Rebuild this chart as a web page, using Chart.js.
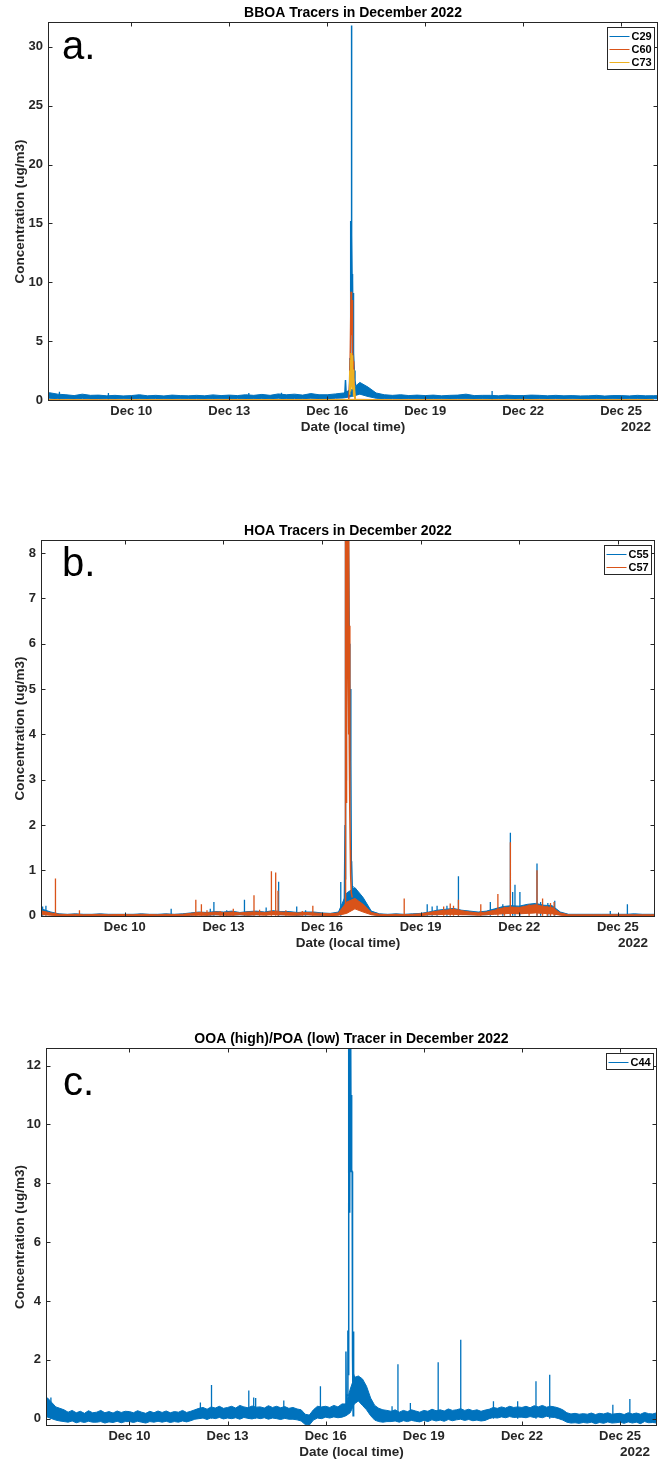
<!DOCTYPE html>
<html>
<head>
<meta charset="utf-8">
<title>Tracers in December 2022</title>
<script src="https://cdn.jsdelivr.net/npm/chart.js"></script>
<style>
  html, body { margin: 0; padding: 0; background: #fff; }
  body { width: 660px; height: 1464px; position: relative; overflow: hidden; }
  canvas { position: absolute; left: 0; }
</style>
</head>
<body>
<canvas id="chartA" width="660" height="440" style="top:0px"></canvas>
<canvas id="chartB" width="660" height="438" style="top:518px"></canvas>
<canvas id="chartC" width="660" height="439" style="top:1026px"></canvas>
<script>
// ========================
// SHARED X AXIS (day of December 2022)
// ========================
const X_MIN = 7.45;
const X_MAX = 26.13;
const X_TICKS = [10, 13, 16, 19, 22, 25];
const X_LABELS = ["Dec 10", "Dec 13", "Dec 16", "Dec 19", "Dec 22", "Dec 25"];

// ========================
// PANEL A - BBOA tracers
// bands sampled every 6 h starting Dec 7 06:00
// ========================
const A_Y_TICKS = [0, 5, 10, 15, 20, 25, 30];
const A_START = 7.25;
const A_STEP = 0.25;

const C29_HI = [
  0.6, 0.62, 0.5,            // Dec 7
  0.45, 0.38, 0.5, 0.4,      // Dec 8
  0.42, 0.36, 0.4, 0.35,     // Dec 9
  0.38, 0.45, 0.36, 0.4,     // Dec 10
  0.35, 0.42, 0.38, 0.36,    // Dec 11
  0.4, 0.36, 0.44, 0.38,     // Dec 12
  0.42, 0.38, 0.45, 0.4,     // Dec 13
  0.48, 0.4, 0.52, 0.45,     // Dec 14
  0.5, 0.42, 0.55, 0.45,     // Dec 15
  0.45, 0.52, 0.6, 0.9,      // Dec 16
  1.5, 1.1, 0.6, 0.45,       // Dec 17
  0.4, 0.45, 0.38, 0.42,     // Dec 18
  0.38, 0.42, 0.36, 0.4,     // Dec 19
  0.42, 0.5, 0.38, 0.4,      // Dec 20
  0.4, 0.36, 0.42, 0.38,     // Dec 21
  0.38, 0.42, 0.4, 0.36,     // Dec 22
  0.4, 0.36, 0.38, 0.35,     // Dec 23
  0.36, 0.4, 0.34, 0.38,     // Dec 24
  0.38, 0.35, 0.4, 0.36,     // Dec 25
  0.37, 0.38                 // Dec 26
];
const C29_LO = [
  0.15, 0.15, 0.12,
  0.12, 0.1, 0.14, 0.1,
  0.1, 0.12, 0.1, 0.11,
  0.1, 0.12, 0.1, 0.13,
  0.12, 0.1, 0.11, 0.12,
  0.12, 0.1, 0.13, 0.11,
  0.12, 0.13, 0.1, 0.12,
  0.14, 0.12, 0.15, 0.12,
  0.13, 0.12, 0.15, 0.13,
  0.12, 0.15, 0.18, 0.3,
  0.5, 0.3, 0.15, 0.12,
  0.12, 0.1, 0.12, 0.11,
  0.1, 0.12, 0.11, 0.1,
  0.12, 0.11, 0.1, 0.12,
  0.1, 0.12, 0.11, 0.1,
  0.11, 0.1, 0.12, 0.1,
  0.12, 0.1, 0.11, 0.1,
  0.1, 0.12, 0.1, 0.11,
  0.1, 0.11, 0.12, 0.1,
  0.11, 0.1
];
const C29_PEAK = [
  [16.54, 0.5], [16.56, 1.7], [16.58, 0.6], [16.68, 0.8], [16.7, 3.5],
  [16.715, 8], [16.725, 15.2], [16.735, 9], [16.74, 22.3], [16.745, 12],
  [16.75, 31.8], [16.755, 14], [16.76, 10.7], [16.77, 9.2], [16.78, 10.2],
  [16.79, 6], [16.8, 9.1], [16.81, 4], [16.83, 2.5], [16.85, 1.7], [16.87, 1.2]
];
const C29_SPIKES = [[7.8, 0.7], [9.3, 0.6], [13.6, 0.6], [14.6, 0.62], [21.05, 0.76]];

// daily samples Dec 7 .. Dec 26
const DAILY_START = 7;
const DAILY_STEP = 1;
const C60_DAILY = [0.04, 0.03, 0.03, 0.02, 0.03, 0.03, 0.04, 0.04, 0.05, 0.05,
                   0.06, 0.03, 0.03, 0.03, 0.03, 0.03, 0.02, 0.03, 0.03, 0.03];
const C60_PEAK = [
  [16.66, 0.05], [16.69, 1.5], [16.71, 4.5], [16.73, 9.2], [16.745, 5.5],
  [16.76, 8.5], [16.775, 4], [16.79, 3.3], [16.81, 1.8], [16.83, 0.6], [16.86, 0.1]
];
const C73_DAILY = [0.02, 0.02, 0.01, 0.02, 0.02, 0.02, 0.02, 0.03, 0.03, 0.03,
                   0.04, 0.02, 0.02, 0.02, 0.02, 0.02, 0.01, 0.02, 0.02, 0.02];
const C73_PEAK = [
  [16.68, 0.5], [16.69, 2.5], [16.7, 0.8], [16.71, 3.4], [16.72, 1.0],
  [16.73, 4.0], [16.74, 1.5], [16.75, 3.6], [16.76, 1.2], [16.77, 3.8],
  [16.78, 0.9], [16.79, 2.6], [16.8, 0.6], [16.81, 1.6], [16.82, 0.3],
  [16.84, 0.8], [16.86, 0.05]
];

// ========================
// PANEL B - HOA tracers (same 6 h grid as panel a)
// ========================
const B_Y_TICKS = [0, 1, 2, 3, 4, 5, 6, 7, 8];

const C55_HI = [
  0.12, 0.14, 0.08,
  0.04, 0.03, 0.04, 0.03,
  0.03, 0.04, 0.03, 0.03,
  0.03, 0.03, 0.04, 0.03,
  0.03, 0.04, 0.03, 0.04,
  0.06, 0.08, 0.07, 0.09,
  0.08, 0.1, 0.07, 0.09,
  0.1, 0.08, 0.11, 0.09,
  0.09, 0.07, 0.08, 0.08,
  0.06, 0.05, 0.08, 0.5,
  0.62, 0.4, 0.1, 0.04,
  0.03, 0.04, 0.03, 0.04,
  0.05, 0.08, 0.12, 0.14,
  0.16, 0.12, 0.1, 0.08,
  0.1, 0.15, 0.2, 0.22,
  0.21, 0.25, 0.27, 0.23,
  0.22, 0.08, 0.03, 0.03,
  0.03, 0.03, 0.03, 0.03,
  0.03, 0.03, 0.04, 0.03,
  0.03, 0.03
];
const C55_LO = [
  0.02, 0.03, 0.02,
  0.0, 0.0, 0.01, 0.0,
  0.0, 0.01, 0.0, 0.0,
  0.0, 0.0, 0.01, 0.0,
  0.0, 0.01, 0.0, 0.0,
  0.01, 0.02, 0.01, 0.02,
  0.02, 0.01, 0.02, 0.01,
  0.02, 0.02, 0.03, 0.02,
  0.02, 0.01, 0.02, 0.02,
  0.01, 0.01, 0.02, 0.1,
  0.3, 0.15, 0.03, 0.0,
  0.0, 0.0, 0.0, 0.01,
  0.01, 0.02, 0.03, 0.04,
  0.04, 0.03, 0.02, 0.02,
  0.02, 0.04, 0.05, 0.06,
  0.05, 0.06, 0.07, 0.06,
  0.05, 0.02, 0.0, 0.0,
  0.0, 0.0, 0.0, 0.0,
  0.0, 0.0, 0.01, 0.0,
  0.0, 0.0
];
const C55_PEAK = [
  [16.68, 0.3], [16.7, 2.0], [16.71, 0.8], [16.72, 8.6], [16.73, 3],
  [16.74, 8.6], [16.76, 8.6], [16.78, 8.6], [16.8, 8.6], [16.82, 8.6],
  [16.83, 6.0], [16.84, 5.4], [16.85, 5.2], [16.86, 4.0], [16.87, 5.0],
  [16.88, 3.4], [16.89, 1.2], [16.9, 1.15], [16.92, 0.6], [16.95, 0.65]
];
const C55_SPIKES = [
  [7.5, 0.2], [7.6, 0.22], [11.41, 0.15], [12.6, 0.15], [12.71, 0.3],
  [13.1, 0.12], [13.64, 0.35], [14.3, 0.18], [14.68, 0.75], [15.23, 0.2],
  [15.5, 0.12], [16.57, 0.74], [19.2, 0.25], [19.35, 0.2], [19.5, 0.22],
  [19.8, 0.22], [20.15, 0.87], [21.12, 0.3], [21.5, 0.25], [21.73, 1.83],
  [21.8, 0.52], [21.87, 0.68], [22.02, 0.52], [22.54, 1.15], [22.65, 0.3],
  [22.87, 0.28], [22.95, 0.25], [23.08, 0.33], [24.77, 0.1], [25.29, 0.25]
];

const C57_HI = [
  0.08, 0.1, 0.06,
  0.03, 0.025, 0.03, 0.02,
  0.025, 0.03, 0.02, 0.025,
  0.025, 0.02, 0.03, 0.025,
  0.02, 0.03, 0.025, 0.03,
  0.05, 0.07, 0.06, 0.08,
  0.07, 0.08, 0.06, 0.08,
  0.08, 0.07, 0.09, 0.08,
  0.07, 0.06, 0.07, 0.06,
  0.05, 0.04, 0.06, 0.3,
  0.38, 0.25, 0.07, 0.03,
  0.02, 0.03, 0.02, 0.03,
  0.04, 0.07, 0.1, 0.12,
  0.14, 0.11, 0.08, 0.06,
  0.08, 0.12, 0.17, 0.19,
  0.18, 0.22, 0.24, 0.2,
  0.18, 0.06, 0.02, 0.02,
  0.02, 0.02, 0.02, 0.02,
  0.02, 0.02, 0.02, 0.02,
  0.02, 0.02
];
const C57_LO = [
  0.01, 0.02, 0.01,
  0.0, 0.0, 0.0, 0.0,
  0.0, 0.0, 0.0, 0.0,
  0.0, 0.0, 0.0, 0.0,
  0.0, 0.0, 0.0, 0.0,
  0.01, 0.01, 0.01, 0.02,
  0.01, 0.01, 0.02, 0.01,
  0.02, 0.01, 0.02, 0.02,
  0.01, 0.01, 0.02, 0.01,
  0.01, 0.0, 0.01, 0.05,
  0.15, 0.08, 0.02, 0.0,
  0.0, 0.0, 0.0, 0.0,
  0.0, 0.02, 0.02, 0.03,
  0.03, 0.02, 0.02, 0.01,
  0.02, 0.03, 0.04, 0.05,
  0.04, 0.05, 0.06, 0.05,
  0.04, 0.01, 0.0, 0.0,
  0.0, 0.0, 0.0, 0.0,
  0.0, 0.0, 0.0, 0.0,
  0.0, 0.0
];
const C57_PEAK = [
  [16.7, 0.2], [16.71, 1.6], [16.72, 8.6], [16.73, 2.5], [16.74, 8.6],
  [16.75, 4.5], [16.76, 8.6], [16.77, 6.4], [16.78, 8.6], [16.79, 5.5],
  [16.8, 8.6], [16.81, 4.0], [16.82, 8.6], [16.83, 3.7], [16.84, 6.4],
  [16.85, 2.3], [16.86, 1.45], [16.87, 0.9], [16.89, 0.5], [16.92, 0.4]
];
const C57_SPIKES = [
  [7.89, 0.82], [8.62, 0.12], [12.16, 0.35], [12.33, 0.25], [12.5, 0.12],
  [12.9, 0.1], [13.3, 0.15], [13.93, 0.45], [14.1, 0.13], [14.46, 0.98],
  [14.59, 0.95], [14.66, 0.55], [14.9, 0.12], [15.4, 0.1], [15.72, 0.22],
  [18.5, 0.38], [19.7, 0.2], [19.9, 0.27], [20.0, 0.22], [20.15, 0.35],
  [20.83, 0.25], [21.35, 0.48], [21.55, 0.2], [21.73, 1.62], [22.3, 0.25],
  [22.54, 1.0], [22.71, 0.38], [22.85, 0.22], [22.95, 0.28], [23.06, 0.3]
];

// ========================
// PANEL C - OOA/POA tracer, band sampled every 3 h from Dec 7 09:00
// ========================
const C_Y_TICKS = [0, 2, 4, 6, 8, 10, 12];
const C_START = 7.375;
const C_STEP = 0.125;

const C44_HI = [
  0.75, 0.7, 0.55, 0.4, 0.35,                        // Dec 7
  0.3, 0.22, 0.28, 0.2, 0.25, 0.18, 0.27, 0.2,       // Dec 8
  0.22, 0.28, 0.2, 0.24, 0.19, 0.26, 0.21, 0.25,     // Dec 9
  0.24, 0.2, 0.27, 0.22, 0.18, 0.25, 0.2, 0.26,      // Dec 10
  0.21, 0.26, 0.2, 0.24, 0.22, 0.28, 0.21, 0.25,     // Dec 11
  0.3, 0.35, 0.38, 0.32, 0.4, 0.36, 0.42, 0.35,      // Dec 12
  0.38, 0.42, 0.36, 0.45, 0.4, 0.37, 0.43, 0.39,     // Dec 13
  0.4, 0.36, 0.44, 0.38, 0.42, 0.37, 0.41, 0.35,     // Dec 14
  0.38, 0.33, 0.3, 0.15, 0.12, 0.3, 0.42, 0.4,       // Dec 15
  0.42, 0.38, 0.45, 0.4, 0.5, 0.5, 1.0, 1.4,         // Dec 16
  1.45, 1.35, 1.1, 0.7, 0.45, 0.35, 0.3, 0.28,       // Dec 17
  0.25, 0.3, 0.22, 0.28, 0.24, 0.3, 0.26, 0.22,      // Dec 18
  0.28, 0.25, 0.32, 0.27, 0.3, 0.26, 0.33, 0.28,     // Dec 19
  0.3, 0.34, 0.28, 0.32, 0.27, 0.3, 0.25, 0.29,      // Dec 20
  0.32, 0.38, 0.35, 0.4, 0.36, 0.42, 0.38, 0.4,      // Dec 21
  0.38, 0.42, 0.37, 0.44, 0.4, 0.45, 0.39, 0.42,     // Dec 22
  0.4, 0.36, 0.3, 0.2, 0.16, 0.18, 0.15, 0.17,       // Dec 23
  0.15, 0.19, 0.14, 0.18, 0.16, 0.2, 0.15, 0.17,     // Dec 24
  0.18, 0.14, 0.2, 0.16, 0.19, 0.15, 0.21, 0.17,     // Dec 25
  0.16, 0.2                                          // Dec 26
];
const C44_LO = [
  0.1, 0.05, 0.0, -0.05, -0.08,
  -0.1, -0.12, -0.08, -0.14, -0.1, -0.13, -0.09, -0.12,
  -0.12, -0.1, -0.15, -0.11, -0.13, -0.09, -0.14, -0.1,
  -0.1, -0.13, -0.09, -0.12, -0.15, -0.1, -0.12, -0.09,
  -0.12, -0.09, -0.13, -0.1, -0.12, -0.08, -0.11, -0.07,
  -0.02, 0.0, 0.02, -0.03, 0.03, 0.0, 0.04, -0.01,
  0.02, 0.0, 0.03, -0.02, 0.04, 0.01, -0.01, 0.03,
  0.0, 0.03, -0.02, 0.02, 0.0, -0.03, 0.01, -0.02,
  -0.02, -0.04, -0.08, -0.2, -0.22, -0.05, 0.02, 0.0,
  0.05, 0.02, 0.06, 0.03, 0.05, 0.1, 0.2, 0.5,
  0.6, 0.45, 0.3, 0.1, -0.05, -0.1, -0.12, -0.1,
  -0.1, -0.08, -0.12, -0.07, -0.1, -0.06, -0.09, -0.11,
  -0.06, -0.1, -0.04, -0.08, -0.05, -0.09, -0.03, -0.07,
  -0.04, -0.02, -0.06, -0.03, -0.07, -0.05, -0.08, -0.06,
  0.0, 0.04, 0.02, 0.06, 0.03, 0.07, 0.04, 0.05,
  0.05, 0.03, 0.07, 0.04, 0.06, 0.03, 0.08, 0.05,
  0.04, 0.0, -0.05, -0.12, -0.15, -0.14, -0.16, -0.13,
  -0.15, -0.12, -0.17, -0.13, -0.16, -0.11, -0.15, -0.14,
  -0.12, -0.16, -0.11, -0.15, -0.12, -0.17, -0.1, -0.14,
  -0.13, -0.15
];
const C44_PEAK = [
  [16.6, 0.3], [16.62, 2.28], [16.63, 0.4], [16.66, 0.8], [16.68, 3.0],
  [16.69, 1.5], [16.7, 13], [16.705, 5], [16.71, 13], [16.72, 9],
  [16.73, 13], [16.74, 7], [16.75, 13], [16.76, 10], [16.77, 13],
  [16.78, 8.4], [16.79, 11], [16.8, 8.45], [16.81, 8.4], [16.815, 4],
  [16.82, 6], [16.83, 2.1], [16.84, 0.1], [16.85, 2.96], [16.86, 1.0],
  [16.88, 1.4], [16.9, 1.3]
];
const C44_SPIKES = [
  [7.6, 0.72], [12.17, 0.55], [12.51, 1.14], [13.65, 0.96], [13.8, 0.72],
  [13.86, 0.7], [14.72, 0.62], [15.84, 1.1], [18.03, 0.42], [18.21, 1.85],
  [18.59, 0.53], [19.44, 1.92], [20.13, 2.68], [21.13, 0.59], [21.87, 0.59],
  [22.43, 1.27], [22.85, 1.49], [24.78, 0.47], [25.3, 0.67]
];

// ========================
// STYLE
// ========================
const BLUE = "#0072BD";
const ORANGE = "#D95319";
const YELLOW = "#EDB120";
const AXIS_COLOR = "#262626";
const FONT = "'Liberation Sans', Arial, Helvetica, sans-serif";

// ========================
// DATA HELPERS
// ========================
function onGrid(start, step, values) {
  return values.map((v, i) => ({ x: start + i * step, y: v }));
}

function fromPairs(pairs) {
  return pairs.map(p => ({ x: p[0], y: p[1] }));
}

// each spike is a vertical stroke from 0 up to its value
function asSpikes(pairs) {
  const pts = [];
  pairs.forEach(p => {
    pts.push({ x: p[0], y: 0 }, { x: p[0], y: p[1] }, { x: p[0], y: null });
  });
  return pts;
}

function lineSet(data, color, order, extra) {
  return Object.assign({
    type: "line",
    data,
    borderColor: color,
    backgroundColor: color,
    borderWidth: 1,
    pointRadius: 0,
    tension: 0,
    fill: false,
    spanGaps: false,
    order
  }, extra || {});
}

// noisy series drawn as a filled band between low and high envelopes
function bandSets(label, lo, hi, start, step, color, order) {
  return [
    lineSet(onGrid(start, step, lo), color, order),
    lineSet(onGrid(start, step, hi), color, order, { label, fill: "-1", inLegend: true })
  ];
}

// ========================
// DECORATION PLUGIN (box, inward ticks, title, letter, legend)
// ========================
const panelDecor = {
  id: "panelDecor",
  afterDraw(chart, args, opts) {
    const { ctx, chartArea: a, scales } = chart;
    ctx.save();

    ctx.strokeStyle = AXIS_COLOR;
    ctx.lineWidth = 1;
    const L = Math.round(a.left) + 0.5, R = Math.round(a.right) - 0.5;
    const T = Math.round(a.top) + 0.5, B = Math.round(a.bottom) - 0.5;
    ctx.strokeRect(L, T, R - L, B - T);

    const tl = 4;
    ctx.beginPath();
    scales.x.ticks.forEach(t => {
      const px = Math.round(scales.x.getPixelForValue(t.value)) + 0.5;
      ctx.moveTo(px, B); ctx.lineTo(px, B - tl);
      ctx.moveTo(px, T); ctx.lineTo(px, T + tl);
    });
    scales.y.ticks.forEach(t => {
      const py = Math.round(scales.y.getPixelForValue(t.value)) + 0.5;
      ctx.moveTo(L, py); ctx.lineTo(L + tl, py);
      ctx.moveTo(R, py); ctx.lineTo(R - tl, py);
    });
    ctx.stroke();

    // title
    ctx.fillStyle = "#000";
    ctx.font = "bold 14px " + FONT;
    ctx.textAlign = "center";
    ctx.textBaseline = "middle";
    ctx.fillText(opts.title, (a.left + a.right) / 2, a.top - 9);

    // panel letter
    ctx.font = "40px " + FONT;
    ctx.textAlign = "left";
    ctx.textBaseline = "alphabetic";
    ctx.fillText(opts.letter, a.left + opts.letterDx, a.top + opts.letterDy);

    // year under the last date tick
    ctx.fillStyle = AXIS_COLOR;
    ctx.font = "bold 13.5px " + FONT;
    ctx.textAlign = "right";
    ctx.textBaseline = "middle";
    ctx.fillText("2022", a.right - 7, a.bottom + 26);

    // legend
    const items = chart.data.datasets.filter(d => d.inLegend);
    const rowH = 13, boxW = 47;
    const bx = Math.round(a.right - 4 - boxW) + 0.5;
    const by = Math.round(a.top + 5) + 0.5;
    const bh = items.length * rowH + 3;
    ctx.fillStyle = "#fff";
    ctx.fillRect(bx, by, boxW, bh);
    ctx.strokeStyle = AXIS_COLOR;
    ctx.strokeRect(bx, by, boxW, bh);
    ctx.font = "bold 11px " + FONT;
    ctx.textAlign = "left";
    items.forEach((d, i) => {
      const y = Math.round(by + 8 + i * rowH) + 0.5;
      ctx.strokeStyle = d.borderColor;
      ctx.beginPath();
      ctx.moveTo(bx + 2, y);
      ctx.lineTo(bx + 22, y);
      ctx.stroke();
      ctx.fillStyle = "#000";
      ctx.fillText(d.label, bx + 24, y);
    });

    ctx.restore();
  }
};

// ========================
// CHART FACTORY
// ========================
function makePanel(id, cfg, datasets) {
  const tickFont = { family: FONT, size: 13, weight: "bold" };
  const titleFont = { family: FONT, size: 13.5, weight: "bold" };
  return new Chart(document.getElementById(id), {
    type: "line",
    data: { datasets },
    options: {
      responsive: false,
      animation: false,
      devicePixelRatio: 1,
      layout: { padding: { top: 22, right: cfg.padRight, left: 0, bottom: 0 } },
      plugins: {
        legend: { display: false },
        tooltip: { enabled: false },
        panelDecor: { title: cfg.title, letter: cfg.letter, letterDx: cfg.letterDx, letterDy: cfg.letterDy }
      },
      scales: {
        x: {
          type: "linear",
          min: X_MIN,
          max: X_MAX,
          afterBuildTicks: s => { s.ticks = X_TICKS.map(v => ({ value: v })); },
          afterFit: s => { s.height = 39; },
          grid: { display: false, drawTicks: false },
          border: { display: false },
          ticks: {
            autoSkip: false,
            maxRotation: 0,
            padding: 3,
            color: AXIS_COLOR,
            font: tickFont,
            callback: v => X_LABELS[X_TICKS.indexOf(v)]
          },
          title: {
            display: true,
            text: "Date (local time)",
            color: AXIS_COLOR,
            font: titleFont,
            padding: { top: 0, bottom: 5 }
          }
        },
        y: {
          type: "linear",
          min: cfg.yMin,
          max: cfg.yMax,
          afterBuildTicks: s => { s.ticks = cfg.yTicks.map(v => ({ value: v })); },
          afterFit: s => { s.width = cfg.left; },
          grid: { display: false, drawTicks: false },
          border: { display: false },
          ticks: {
            autoSkip: false,
            padding: 5,
            color: AXIS_COLOR,
            font: tickFont,
            callback: v => String(v)
          },
          title: {
            display: true,
            text: "Concentration (ug/m3)",
            color: AXIS_COLOR,
            font: titleFont,
            padding: { top: 12, bottom: 0 }
          }
        }
      }
    },
    plugins: [panelDecor]
  });
}

// ========================
// BUILD PANELS
// later series are drawn on top (lower order value)
// ========================
const PEAK_W = { borderWidth: 1.5 };
const SPIKE_W = { borderWidth: 1.3 };

makePanel("chartA", {
  title: "BBOA Tracers in December 2022", letter: "a.", letterDx: 14, letterDy: 37,
  left: 48, padRight: 2, yMin: -0.08, yMax: 32.1, yTicks: A_Y_TICKS
}, [
  ...bandSets("C29", C29_LO, C29_HI, A_START, A_STEP, BLUE, 3),
  lineSet(fromPairs(C29_PEAK), BLUE, 3, PEAK_W),
  lineSet(asSpikes(C29_SPIKES), BLUE, 3, SPIKE_W),
  lineSet(onGrid(DAILY_START, DAILY_STEP, C60_DAILY), ORANGE, 2, { label: "C60", inLegend: true }),
  lineSet(fromPairs(C60_PEAK), ORANGE, 2, PEAK_W),
  lineSet(onGrid(DAILY_START, DAILY_STEP, C73_DAILY), YELLOW, 1, { label: "C73", inLegend: true }),
  lineSet(fromPairs(C73_PEAK), YELLOW, 1, PEAK_W)
]);

makePanel("chartB", {
  title: "HOA Tracers in December 2022", letter: "b.", letterDx: 21, letterDy: 36,
  left: 41, padRight: 5, yMin: -0.03, yMax: 8.29, yTicks: B_Y_TICKS
}, [
  ...bandSets("C55", C55_LO, C55_HI, A_START, A_STEP, BLUE, 3),
  lineSet(fromPairs(C55_PEAK), BLUE, 3, PEAK_W),
  lineSet(asSpikes(C55_SPIKES), BLUE, 3, SPIKE_W),
  ...bandSets("C57", C57_LO, C57_HI, A_START, A_STEP, ORANGE, 2),
  lineSet(fromPairs(C57_PEAK), ORANGE, 2, PEAK_W),
  lineSet(asSpikes(C57_SPIKES), ORANGE, 2, SPIKE_W)
]);

makePanel("chartC", {
  title: "OOA (high)/POA (low) Tracer in December 2022", letter: "c.", letterDx: 17, letterDy: 47,
  left: 46, padRight: 3, yMin: -0.25, yMax: 12.6, yTicks: C_Y_TICKS
}, [
  ...bandSets("C44", C44_LO, C44_HI, C_START, C_STEP, BLUE, 3),
  lineSet(fromPairs(C44_PEAK), BLUE, 3, PEAK_W),
  lineSet(asSpikes(C44_SPIKES), BLUE, 3, SPIKE_W)
]);
</script>
</body>
</html>
